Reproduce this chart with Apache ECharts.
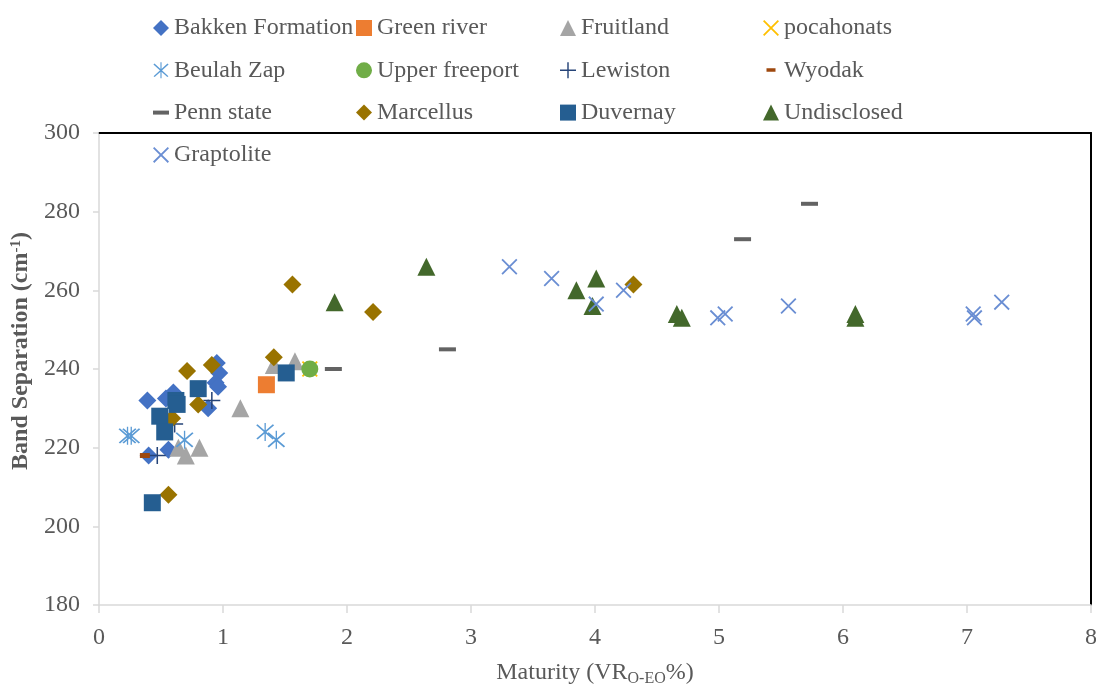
<!DOCTYPE html>
<html>
<head>
<meta charset="utf-8">
<script src="https://cdn.jsdelivr.net/npm/echarts@6/dist/echarts.min.js"></script>
<style>html,body{margin:0;padding:0;background:#fff;}#c{width:1096px;height:684px;}</style>
</head>
<body>
<div id="c"></div>
<script>
// ---- data ----
const xTicks = [0, 1, 2, 3, 4, 5, 6, 7, 8];
const yTicks = [180, 200, 220, 240, 260, 280, 300];

const bakkenX = [0.39, 0.54, 0.60, 0.95, 0.97, 0.94, 0.96, 0.88, 0.56, 0.40];
const bakkenY = [232, 232.5, 234, 241.5, 239, 236.5, 235.5, 230, 219.5, 218];
const greenRiverX = [1.35];
const greenRiverY = [236];
const fruitlandX = [0.64, 0.70, 0.81, 1.14, 1.41, 1.58];
const fruitlandY = [220, 218, 220, 230, 241, 242];
const pocahonatsX = [1.70];
const pocahonatsY = [240];
const beulahX = [0.23, 0.26, 0.69, 1.34, 1.43];
const beulahY = [223, 223, 222, 224, 222];
const upperFreeportX = [1.70];
const upperFreeportY = [240];
const lewistonX = [0.47, 0.61, 0.91];
const lewistonY = [218, 226, 232];
const wyodakX = [0.37];
const wyodakY = [218];
const pennStateX = [1.89, 2.81, 5.19, 5.73];
const pennStateY = [240, 245, 273, 282];
const marcellusX = [0.56, 0.59, 0.71, 0.80, 0.91, 1.41, 1.56, 2.21, 4.31];
const marcellusY = [208, 227.5, 239.5, 231, 241, 243, 261.5, 254.5, 261.5];
const duvernayX = [0.43, 0.49, 0.53, 0.62, 0.63, 0.80, 1.51];
const duvernayY = [206, 228, 224, 232, 231, 235, 239];
const undisclosedX = [1.90, 2.64, 3.85, 4.01, 3.98, 4.66, 4.70, 6.10, 6.10];
const undisclosedY = [257, 266, 260, 263, 256, 254, 253, 254, 253];
const graptoliteX = [3.31, 3.65, 4.01, 4.23, 4.99, 5.05, 5.56, 7.05, 7.06, 7.28];
const graptoliteY = [266, 263, 256.5, 260, 253, 254, 256, 254, 253, 257];

// ---- symbols ----
const X_PATH = 'path://M1.6,0L20,18.4L18.4,20L0,1.6Z M18.4,0L20,1.6L1.6,20L0,18.4Z';
const ASTER_PATH = 'path://M2.6,1.5L20,17.3L18.6,18.5L1.2,2.7Z M18.8,1.5L20.2,2.7L2.8,18.5L1.4,17.3Z M10,0L11.4,0L11.4,20L10,20Z';
const PLUS_PATH = 'path://M9.1,0H10.9V9.1H20V10.9H10.9V20H9.1V10.9H0V9.1H9.1Z';
const PENN_ICON = 'path://M0,0H16V4H0Z';
const WYO_ICON = 'path://M0,0h0.05v0.05h-0.05Z M3.5,6h9v3.5h-9Z M16,16h-0.05v-0.05h0.05Z';

const FONT = "'Liberation Serif','Times New Roman',serif";
const GREY = '#595959';

function pts(xs, ys) { return xs.map((x, i) => [x, ys[i]]); }
function ser(name, xs, ys, color, symbol, size) {
  return { name, type: 'scatter', data: pts(xs, ys), symbol, symbolSize: size,
           itemStyle: { color, opacity: 1 }, emphasis: { disabled: true } };
}

const series = [
  ser('Bakken Formation', bakkenX, bakkenY, '#4472C4', 'diamond', 18),
  ser('Green river', greenRiverX, greenRiverY, '#ED7D31', 'rect', 17),
  ser('Fruitland', fruitlandX, fruitlandY, '#A5A5A5', 'triangle', 18),
  ser('pocahonats', pocahonatsX, pocahonatsY, '#FFC000', X_PATH, 16),
  ser('Beulah Zap', beulahX, beulahY, '#5B9BD5', ASTER_PATH, 18),
  ser('Upper freeport', upperFreeportX, upperFreeportY, '#70AD47', 'circle', 17),
  ser('Lewiston', lewistonX, lewistonY, '#264478', PLUS_PATH, 17),
  ser('Wyodak', wyodakX, wyodakY, '#9E480E', 'rect', [10, 5]),
  ser('Penn state', pennStateX, pennStateY, '#636363', 'rect', [17, 4]),
  ser('Marcellus', marcellusX, marcellusY, '#997300', 'diamond', 18),
  ser('Duvernay', duvernayX, duvernayY, '#255E91', 'rect', 17),
  ser('Undisclosed', undisclosedX, undisclosedY, '#43682B', 'triangle', 18),
  ser('Graptolite', graptoliteX, graptoliteY, '#6A8ED3', X_PATH, 16)
];

const legendText = { fontFamily: FONT, fontSize: 24, color: GREY, lineHeight: 28 };
function legendCol(left, names) {
  return {
    orient: 'vertical', left, top: 14, itemGap: 14.3, itemWidth: 16, itemHeight: 16,
    selectedMode: false, padding: 0, textStyle: legendText,
    data: names.map(n => n === 'Penn state' ? { name: n, icon: PENN_ICON }
                        : n === 'Wyodak' ? { name: n, icon: WYO_ICON } : { name: n })
  };
}

const option = {
  animation: false,
  backgroundColor: '#fff',
  legend: [
    legendCol(153, ['Bakken Formation', 'Beulah Zap', 'Penn state', 'Graptolite']),
    legendCol(356, ['Green river', 'Upper freeport', 'Marcellus']),
    legendCol(560, ['Fruitland', 'Lewiston', 'Duvernay']),
    legendCol(763, ['pocahonats', 'Wyodak', 'Undisclosed'])
  ],
  grid: { left: 99, right: 5, top: 133, bottom: 79, containLabel: false, outerBoundsMode: 'none' },
  xAxis: [{
    type: 'value', min: xTicks[0], max: xTicks[xTicks.length - 1], interval: 1,
    axisLine: { lineStyle: { color: '#D9D9D9', width: 1.5 } },
    axisTick: { show: true, length: 8, lineStyle: { color: '#D9D9D9', width: 1.5 } },
    splitLine: { show: false },
    axisLabel: { fontFamily: FONT, fontSize: 24, color: GREY, margin: 21 },
    name: 'Maturity (VR{sub|O-EO}%)', nameLocation: 'middle', nameGap: 54,
    nameTextStyle: { fontFamily: FONT, fontSize: 24, color: GREY,
      rich: { sub: { fontFamily: FONT, fontSize: 16, color: GREY, padding: [12, 0, 0, 0] } } }
  }, {
    type: 'value', position: 'top', min: xTicks[0], max: xTicks[xTicks.length - 1],
    axisLine: { show: true, onZero: false, lineStyle: { color: '#000', width: 2 } },
    axisTick: { show: false }, axisLabel: { show: false }, splitLine: { show: false }
  }],
  yAxis: [{
    type: 'value', min: yTicks[0], max: yTicks[yTicks.length - 1], interval: 20,
    axisLine: { show: true, lineStyle: { color: '#D9D9D9', width: 1.5 } },
    axisTick: { show: true, length: 6, lineStyle: { color: '#D9D9D9', width: 1.5 } },
    splitLine: { show: false },
    axisLabel: { fontFamily: FONT, fontSize: 24, color: GREY, margin: 19 },
    name: '{b|Band Separation (cm}{s|-1}{b|)}', nameLocation: 'middle', nameGap: 57,
    nameTextStyle: { fontFamily: FONT, fontSize: 24, fontWeight: 'bold', color: GREY,
      padding: [0, 0, 0, 36],
      rich: {
        b: { fontFamily: FONT, fontSize: 24, fontWeight: 'bold', color: GREY },
        s: { fontFamily: FONT, fontSize: 15, fontWeight: 'bold', color: GREY, padding: [0, 0, 10, 0] }
      } }
  }, {
    type: 'value', position: 'right', min: yTicks[0], max: yTicks[yTicks.length - 1],
    axisLine: { show: true, onZero: false, lineStyle: { color: '#000', width: 2 } },
    axisTick: { show: false }, axisLabel: { show: false }, splitLine: { show: false }
  }],
  series
};

const chart = echarts.init(document.getElementById('c'), null, { renderer: 'canvas' });
chart.setOption(option);
</script>
</body>
</html>
